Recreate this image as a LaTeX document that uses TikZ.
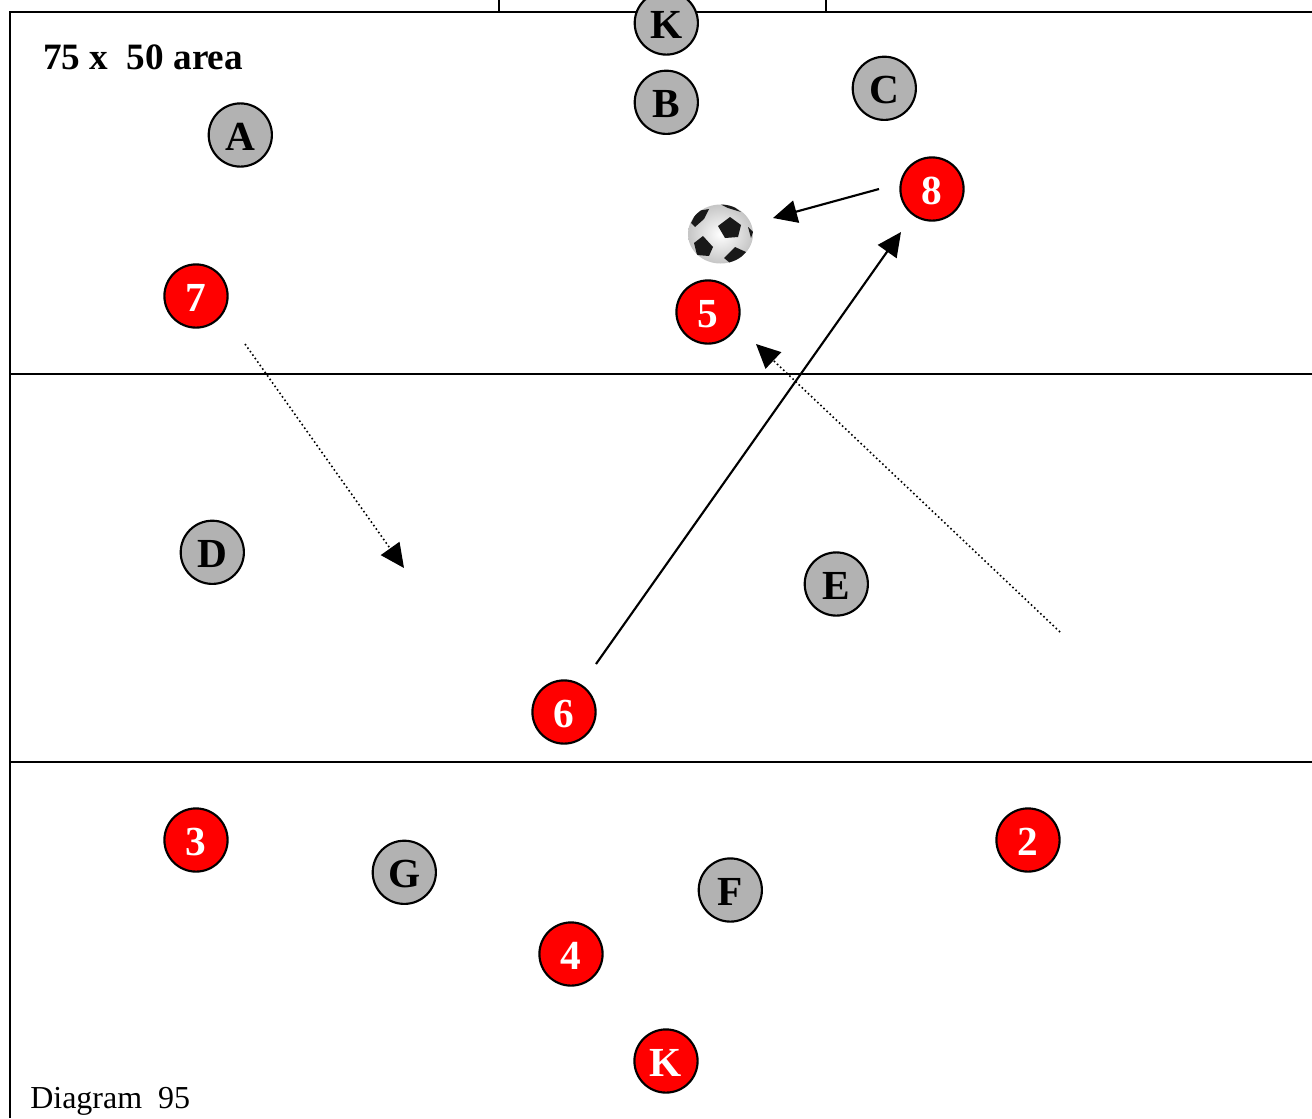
\documentclass[tikz,border=0pt]{standalone}
\usepackage{fontspec}
\setmainfont{Liberation Serif}
\usetikzlibrary{arrows.meta}
\definecolor{pgray}{HTML}{B2B2B2}
\definecolor{pred}{HTML}{FF0000}
\tikzset{
  x=0.75pt,y=-0.75pt,
  player/.style={circle,draw=black,line width=1.6pt,minimum size=47.4pt,inner sep=0pt,text height=23.5pt,text depth=0pt,font=\fontsize{31}{31}\selectfont\bfseries},
  grayp/.style={player,fill=pgray,text=black},
  redp/.style={player,fill=pred,text=white},
  field/.style={line width=1.6pt,draw=black},
  run/.style={line width=1.2pt,dotted,-{Triangle[length=18pt,width=17pt]}},
  pass/.style={line width=1.6pt,-{Triangle[length=18pt,width=17pt]}},
  patch/.style={fill=black!90,draw=none},
}
\begin{document}
\begin{tikzpicture}
\useasboundingbox (0,0) rectangle (1312,1118);
\clip (0,0) rectangle (1312,1118);
\fill[white] (0,0) rectangle (1312,1118);
% field
\draw[field] (10,1118) -- (10,12) -- (1312,12);
\draw[field] (10,374) -- (1312,374);
\draw[field] (10,762) -- (1312,762);
\draw[field] (499,0) -- (499,12);
\draw[field] (826,0) -- (826,12);
% labels
\node[anchor=base west,inner sep=0pt,font=\fontsize{27.9}{28}\selectfont\bfseries] (title) at (43,69.5) {75 x\ \ 50 area};
\node[anchor=base west,inner sep=0pt,font=\fontsize{24}{25}\selectfont] (cap) at (30,1108) {Diagram\ \ 95};
% players
\node[grayp] (K1) at (666.3,23) {K};
\node[grayp] (B) at (666.3,102.3) {B};
\node[grayp] (C) at (884.3,88.3) {C};
\node[grayp] (A) at (240.3,135) {A};
\node[grayp] (D) at (212.3,552.3) {D};
\node[grayp] (E) at (836.3,584) {E};
\node[grayp] (G) at (404.3,872.3) {G};
\node[grayp] (F) at (730.3,890) {F};
\node[redp] (P8) at (932,189) {8};
\node[redp] (P5) at (708,312) {5};
\node[redp] (P7) at (196,296) {7};
\node[redp] (P6) at (564,712) {6};
\node[redp] (P3) at (196,840) {3};
\node[redp] (P2) at (1028,840) {2};
\node[redp] (P4) at (571,954) {4};
\node[redp] (K2) at (666,1061) {K};
% ball
\shade[inner color=white,outer color=gray!45] (720.5,234) ellipse [x radius=32.5,y radius=29.5];
\begin{scope}
\clip (720.5,234) ellipse [x radius=32.5,y radius=29.5];
\fill[patch] (718,226) -- (730,217) -- (741,225) -- (738,237) -- (725,238) -- cycle;
\fill[patch] (694,243) -- (703,236) -- (713,247) -- (709,256) -- (697,255) -- cycle;
\fill[patch] (691,223) -- (697,211) -- (709,209) -- (704,219) -- (695,227) -- cycle;
\fill[patch] (724,258) -- (735,247) -- (746,252) -- (739,259) -- (730,263) -- cycle;
\fill[patch] (720,204) -- (730,204) -- (741,212) -- (728,208) -- cycle;
\fill[patch] (748,227) -- (753,232) -- (751,238) -- cycle;
\end{scope}
% connectors
\coordinate (pa) at (879,189);
\coordinate (pb) at (773,218);
\coordinate (qa) at (596,664);
\coordinate (qb) at (901,232);
\coordinate (ra) at (1060,632);
\coordinate (rb) at (756,344);
\coordinate (sa) at (245,344);
\coordinate (sb) at (404,568);
\draw[pass] (pa) -- (pb);
\draw[pass] (qa) -- (qb);
\draw[run] (ra) -- (rb);
\draw[run] (sa) -- (sb);
\end{tikzpicture}
\end{document}
